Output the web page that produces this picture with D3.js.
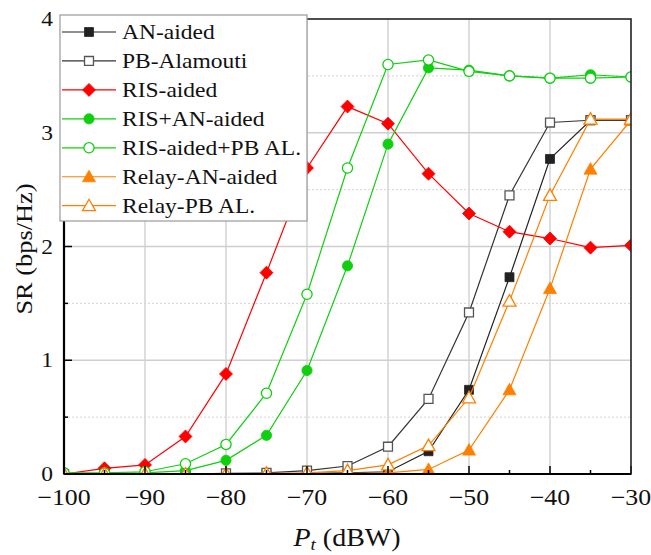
<!DOCTYPE html>
<html><head><meta charset="utf-8">
<script src="https://cdn.jsdelivr.net/npm/d3@7"></script>
<style>body{margin:0;background:#fff}svg{display:block}text{font-family:"Liberation Serif","Times New Roman",Times,serif;}</style>
</head><body>
<svg id="c" width="651" height="555"></svg>
<script>
// ---- data ----
const pt = [-100,-95,-90,-85,-80,-75,-70,-65,-60,-55,-50,-45,-40,-35,-30];
const anAided      = [0,0,0,0,0,0,0.005,0.01,0.02,0.20,0.74,1.73,2.77,3.11,3.11];
const pbAlamouti   = [0,0,0,0,0.005,0.01,0.03,0.07,0.24,0.66,1.42,2.45,3.09,3.11,3.11];
const risAided     = [0,0.05,0.08,0.33,0.88,1.77,2.69,3.23,3.08,2.64,2.29,2.13,2.07,1.99,2.01];
const risAnAided   = [0,0.005,0.01,0.03,0.12,0.34,0.91,1.83,2.90,3.57,3.55,3.50,3.48,3.51,3.49];
const risPbAl      = [0.01,0.01,0.02,0.09,0.26,0.71,1.58,2.69,3.60,3.64,3.54,3.50,3.48,3.48,3.49];
const relayAnAided = [0,0,0,0,0,0,0,0.005,0.01,0.04,0.21,0.74,1.63,2.68,3.11];
const relayPbAl    = [0,0,0,0,0,0.005,0.01,0.03,0.08,0.25,0.67,1.52,2.45,3.12,3.12];
const seriesNames  = ["AN-aided","PB-Alamouti","RIS-aided","RIS+AN-aided","RIS-aided+PB AL.","Relay-AN-aided","Relay-PB AL."];
const seriesValues = [anAided,pbAlamouti,risAided,risAnAided,risPbAl,relayAnAided,relayPbAl];
const xTickValues  = [-100,-90,-80,-70,-60,-50,-40,-30];
const yTickValues  = [0,1,2,3,4];
const xLabel = {main:"P", sub:"t", unit:" (dBW)"};
const yLabel = "SR (bps/Hz)";

// ---- styles ----
const styles = [
  {color:"#222", sym:"square",  fill:true},
  {color:"#333", sym:"square",  fill:false},
  {color:"#ff0000", sym:"diamond", fill:true},
  {color:"#0fcf0f", sym:"circle",  fill:true},
  {color:"#0fcf0f", sym:"circle",  fill:false},
  {color:"#ff8000", sym:"triangle",fill:true},
  {color:"#ff8000", sym:"triangle",fill:false}
];

const svg = d3.select("#c");
const L=64, R=631, T=19, B=474;
const x = d3.scaleLinear().domain([-100,-30]).range([L,R]);
const y = d3.scaleLinear().domain([0,4]).range([B,T]);

svg.append("rect").attr("width",651).attr("height",555).attr("fill","#fff");

// grid
const g = svg.append("g");
g.selectAll(".vg").data(xTickValues.filter(v=>v>-100&&v<-30)).enter().append("line")
  .attr("x1",d=>x(d)).attr("x2",d=>x(d)).attr("y1",T).attr("y2",B)
  .attr("stroke","#bdbdbd").attr("stroke-width",1);
g.selectAll(".hg").data([1,2,3]).enter().append("line")
  .attr("x1",L).attr("x2",R).attr("y1",d=>y(d)).attr("y2",d=>y(d))
  .attr("stroke","#cfcfcf").attr("stroke-width",1.6);
g.selectAll(".hm").data([0.5,1.5,2.5,3.5]).enter().append("line")
  .attr("x1",L).attr("x2",R).attr("y1",d=>y(d)).attr("y2",d=>y(d))
  .attr("stroke","#d4d4d4").attr("stroke-width",1).attr("stroke-dasharray","2,2");

// clip
svg.append("clipPath").attr("id","clip").append("rect")
  .attr("x",L).attr("y",T).attr("width",R-L).attr("height",B-T);

function symbolPath(sym){
  if(sym==="square") return d3.symbol(d3.symbolSquare, 80)();
  if(sym==="diamond") return "M0,-6.5L6.5,0L0,6.5L-6.5,0Z";
  if(sym==="circle") return d3.symbol(d3.symbolCircle, 82)();
  if(sym==="triangle") return "M0,-6.5L6.5,5L-6.5,5Z";
}
function drawMarker(sel, st){
  sel.append("path").attr("d",symbolPath(st.sym))
    .attr("fill", st.fill ? st.color : "#fff")
    .attr("stroke", st.fill ? st.color : (st.sym==="square"?"#555":st.color))
    .attr("stroke-width", st.fill?0.8:1.3);
}

const plot = svg.append("g").attr("clip-path","url(#clip)");
const line = d3.line().x((d,i)=>x(pt[i])).y(d=>y(d));
seriesValues.forEach((vals,k)=>{
  const st = styles[k];
  const gs = plot.append("g");
  gs.append("path").attr("d",line(vals)).attr("fill","none")
    .attr("stroke",st.color).attr("stroke-width",1.2);
  vals.forEach((v,i)=>{
    const m = gs.append("g").attr("transform",`translate(${x(pt[i])},${y(v)})`);
    drawMarker(m, st);
  });
});

// axes ticks
const ax = svg.append("g");
const xMinor = d3.range(-95,-30,10);
ax.selectAll(".xt").data(xTickValues).enter().append("line")
  .attr("x1",d=>x(d)).attr("x2",d=>x(d)).attr("y1",B).attr("y2",B-8)
  .attr("stroke","#000").attr("stroke-width",1.5);
ax.selectAll(".xm").data(xMinor).enter().append("line")
  .attr("x1",d=>x(d)).attr("x2",d=>x(d)).attr("y1",B).attr("y2",B-4)
  .attr("stroke","#000").attr("stroke-width",1.5);
ax.selectAll(".yt").data(yTickValues).enter().append("line")
  .attr("x1",L).attr("x2",L+8).attr("y1",d=>y(d)).attr("y2",d=>y(d))
  .attr("stroke","#000").attr("stroke-width",1.5);
ax.selectAll(".ym").data([0.5,1.5,2.5,3.5]).enter().append("line")
  .attr("x1",L).attr("x2",L+4).attr("y1",d=>y(d)).attr("y2",d=>y(d))
  .attr("stroke","#000").attr("stroke-width",1.5);

// frame
svg.append("rect").attr("x",L).attr("y",T).attr("width",R-L).attr("height",B-T)
  .attr("fill","none").attr("stroke","#222").attr("stroke-width",1.6);
svg.append("line").attr("x1",L).attr("x2",R).attr("y1",B).attr("y2",B).attr("stroke","#000").attr("stroke-width",2.2);
svg.append("line").attr("x1",L).attr("x2",L).attr("y1",T).attr("y2",B).attr("stroke","#000").attr("stroke-width",2.2);

const fmt = d => d<0 ? "\u2212"+Math.abs(d) : String(d);
// tick labels
ax.selectAll(".xl").data(xTickValues).enter().append("text")
  .attr("transform",d=>`translate(${x(d)},505) scale(1.1,1)`)
  .attr("text-anchor","middle").attr("font-size",23.5)
  .attr("fill","#111").text(fmt);
ax.selectAll(".yl").data(yTickValues).enter().append("text")
  .attr("transform",d=>`translate(53,${y(d)+7}) scale(1.12,1)`)
  .attr("text-anchor","end").attr("font-size",21)
  .attr("fill","#111").text(fmt);

// axis labels
const xl = svg.append("text").attr("transform","translate(347,546) scale(1.12,1)")
  .attr("text-anchor","middle").attr("font-size",25).attr("fill","#111");
xl.append("tspan").attr("font-style","italic").text(xLabel.main);
xl.append("tspan").attr("font-style","italic").attr("font-size",17).attr("dy",4).text(xLabel.sub);
xl.append("tspan").attr("dy",-4).text(xLabel.unit);

svg.append("text").attr("transform","translate(32,249) rotate(-90) scale(1.1,1)")
  .attr("text-anchor","middle").attr("font-size",24).attr("fill","#111")
  .text(yLabel);

// legend
const lg = svg.append("g");
lg.append("rect").attr("x",60).attr("y",15).attr("width",247).attr("height",206)
  .attr("fill","#fff").attr("stroke","#999").attr("stroke-width",1.2);
seriesNames.forEach((name,k)=>{
  const st = styles[k];
  const cy = 32 + k*28.95;
  lg.append("line").attr("x1",62).attr("x2",116).attr("y1",cy).attr("y2",cy)
    .attr("stroke",st.color).attr("stroke-width",1.2);
  drawMarker(lg.append("g").attr("transform",`translate(89,${cy})`), st);
  lg.append("text").attr("transform",`translate(122,${cy+7}) scale(1.12,1)`)
    .attr("font-size",21).attr("fill","#111").text(name);
});
</script>
</body></html>
